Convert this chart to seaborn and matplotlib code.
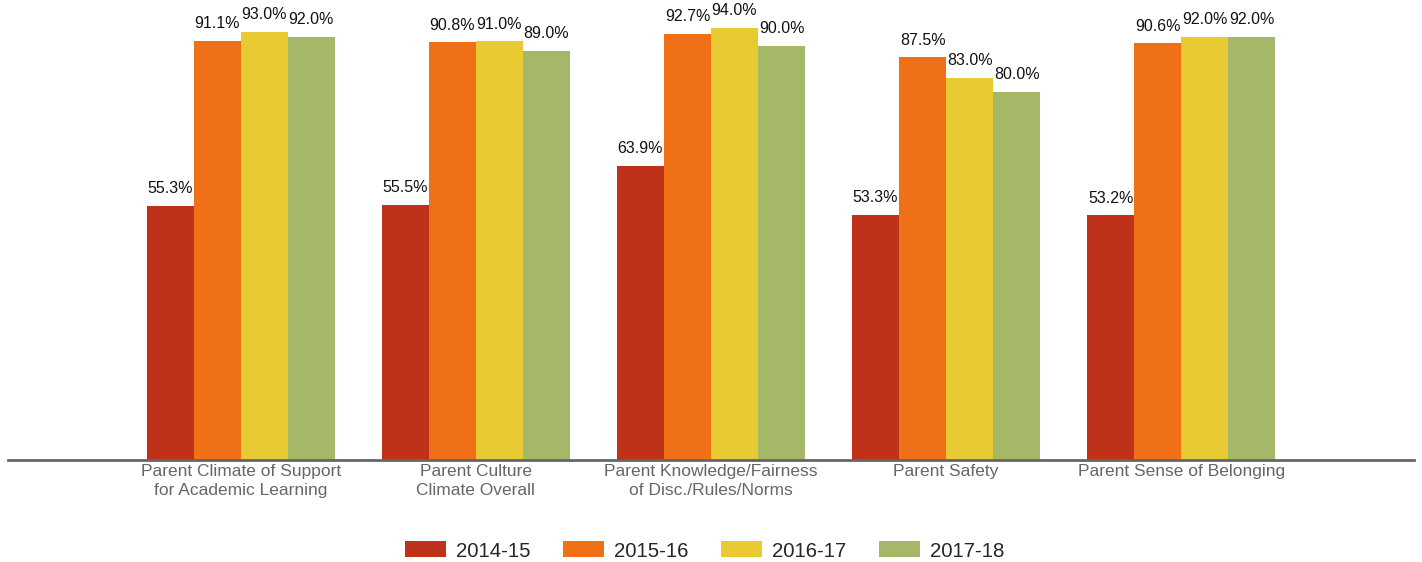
import matplotlib
matplotlib.use("Agg")
import matplotlib.pyplot as plt
import seaborn as sns
import pandas as pd
from matplotlib.patches import Patch

categories = [
    "Parent Climate of Support\nfor Academic Learning",
    "Parent Culture\nClimate Overall",
    "Parent Knowledge/Fairness\nof Disc./Rules/Norms",
    "Parent Safety",
    "Parent Sense of Belonging",
]
years = ["2014-15", "2015-16", "2016-17", "2017-18"]
v_2014_15 = [55.3, 55.5, 63.9, 53.3, 53.2]
v_2015_16 = [91.1, 90.8, 92.7, 87.5, 90.6]
v_2016_17 = [93.0, 91.0, 94.0, 83.0, 92.0]
v_2017_18 = [92.0, 89.0, 90.0, 80.0, 92.0]
colors = ["#C0311A", "#F07018", "#E8CA32", "#A4B868"]

rows = []
for year, vals in zip(years, [v_2014_15, v_2015_16, v_2016_17, v_2017_18]):
    for cat, v in zip(categories, vals):
        rows.append({"category": cat, "year": year, "value": v})
df = pd.DataFrame(rows)

sns.set_theme(style="white")
plt.rcParams["font.family"] = ["Liberation Sans", "DejaVu Sans"]

fig = plt.figure(figsize=(14.22, 5.62), dpi=100)
ax = fig.add_axes([8 / 1422, 102 / 562, 1406 / 1422, 460 / 562])

sns.barplot(data=df, x="category", y="value", hue="year", order=categories,
            hue_order=years, palette=colors, width=0.8, saturation=1,
            edgecolor="none", linewidth=0, ax=ax, legend=False, errorbar=None)

for cont in ax.containers:
    ax.bar_label(cont, fmt="%.1f%%", padding=7, fontsize=11.5, color="#111111")

ax.set_xlim(-0.99, 4.99)
ax.set_ylim(0, 100)
ax.set_xlabel("")
ax.set_ylabel("")
ax.set_yticks([])
for side in ["top", "right", "left"]:
    ax.spines[side].set_visible(False)
ax.spines["bottom"].set_color("#666666")
ax.spines["bottom"].set_linewidth(2)
ax.tick_params(axis="x", length=0, pad=3, labelsize=12.5, labelcolor="#666666")
for lbl in ax.get_xticklabels():
    lbl.set_linespacing(1.3)

handles = [Patch(facecolor=c, edgecolor="none") for c in colors]
fig.legend(handles, years, loc="center", bbox_to_anchor=(0.4955, 11 / 562), ncol=4,
           frameon=False, fontsize=14.7, handlelength=2.0, handleheight=0.83,
           handletextpad=0.5, columnspacing=1.6)

fig.savefig("out.png", dpi=100)
